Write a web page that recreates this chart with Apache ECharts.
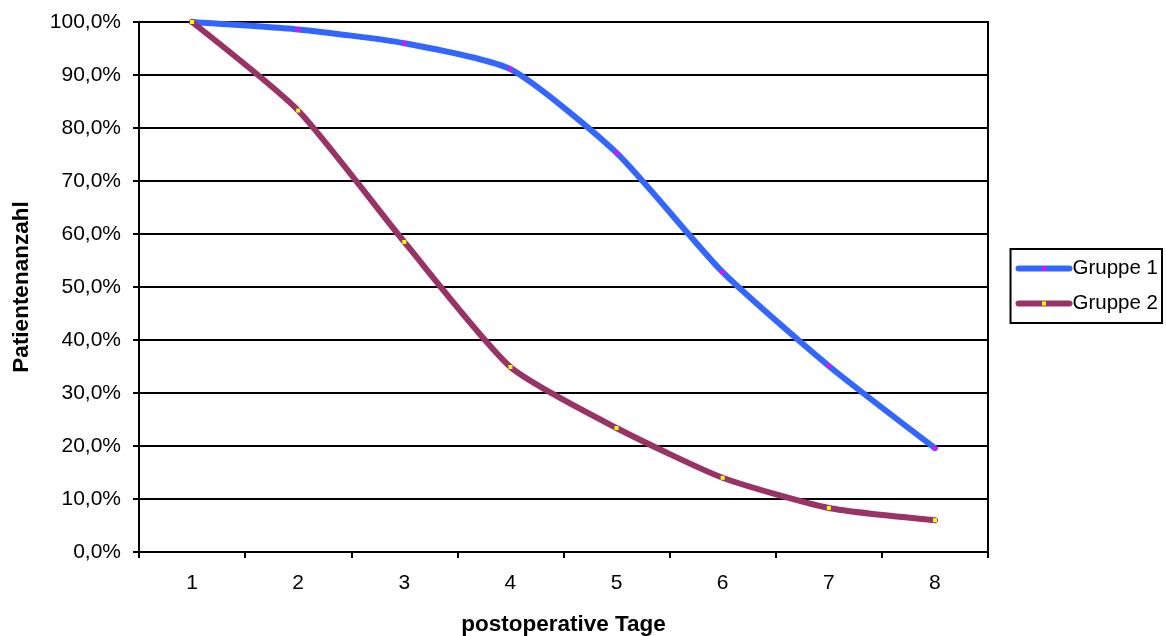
<!DOCTYPE html>
<html><head><meta charset="utf-8">
<script src="https://cdn.jsdelivr.net/npm/echarts@6/dist/echarts.min.js"></script>
<style>html,body{margin:0;padding:0;background:#fff}#c{width:1166px;height:636px}</style>
</head><body><div id="c"></div>
<script>
const categories = ['1','2','3','4','5','6','7','8'];
const gruppe1 = [100.0, 98.6, 96.0, 91.1, 75.3, 52.8, 35.1, 19.6];
const gruppe2 = [100.0, 83.3, 58.5, 34.9, 23.4, 14.0, 8.3, 6.0];
const seriesNames = ['Gruppe 1', 'Gruppe 2'];
const xName = 'postoperative Tage';
const yName = 'Patientenanzahl';

const font = 'Liberation Sans, Arial, sans-serif';
const chart = echarts.init(document.getElementById('c'));
chart.setOption({
  animation: false,
  backgroundColor: '#fff',
  grid: { left: 139, right: 178, top: 22, bottom: 84, show: true, borderColor: '#000', borderWidth: 2,
          containLabel: false, outerBoundsMode: 'none' },
  legend: {
    orient: 'vertical', right: 4, top: 249,
    data: seriesNames,
    borderColor: '#000', borderWidth: 2, padding: [8, 4, 8, 5],
    itemWidth: 51, itemHeight: 5, itemGap: 12,
    lineStyle: { width: 6 },
    textStyle: { fontFamily: font, fontSize: 20.5, color: '#000', lineHeight: 23, padding: [0, 0, 0, -2] }
  },
  xAxis: {
    type: 'category', data: categories, boundaryGap: true,
    name: xName, nameLocation: 'middle', nameGap: 61,
    nameTextStyle: { fontFamily: font, fontSize: 22.5, fontWeight: 'bold', color: '#000' },
    axisLine: { lineStyle: { color: '#000', width: 2 } },
    axisTick: { show: true, length: 6, lineStyle: { color: '#000', width: 2 } },
    axisLabel: { fontFamily: font, fontSize: 21, color: '#000', margin: 21 },
    splitLine: { show: false }
  },
  yAxis: {
    type: 'value', min: 0, max: 100, interval: 10,
    name: yName, nameLocation: 'middle', nameGap: 106, nameRotate: 90,
    nameTextStyle: { fontFamily: font, fontSize: 22.5, fontWeight: 'bold', color: '#000' },
    axisLine: { show: true, lineStyle: { color: '#000', width: 2 } },
    axisTick: { show: true, length: 6, lineStyle: { color: '#000', width: 2 } },
    axisLabel: { fontFamily: font, fontSize: 21, color: '#000', margin: 18,
      formatter: v => v.toFixed(1).replace('.', ',') + '%' },
    splitLine: { show: true, lineStyle: { color: '#000', width: 2 } }
  },
  series: [
    { name: seriesNames[0], type: 'line', data: gruppe1, smooth: 0.2,
      symbol: 'rect', symbolSize: 4, showAllSymbol: true,
      lineStyle: { color: '#3366ff', width: 6, cap: 'round' },
      itemStyle: { color: '#ff00ff', borderWidth: 0 } },
    { name: seriesNames[1], type: 'line', data: gruppe2, smooth: 0.2,
      symbol: 'rect', symbolSize: 4, showAllSymbol: true,
      lineStyle: { color: '#993366', width: 6, cap: 'round' },
      itemStyle: { color: '#ffff00', borderWidth: 0 } }
  ]
});
</script></body></html>
